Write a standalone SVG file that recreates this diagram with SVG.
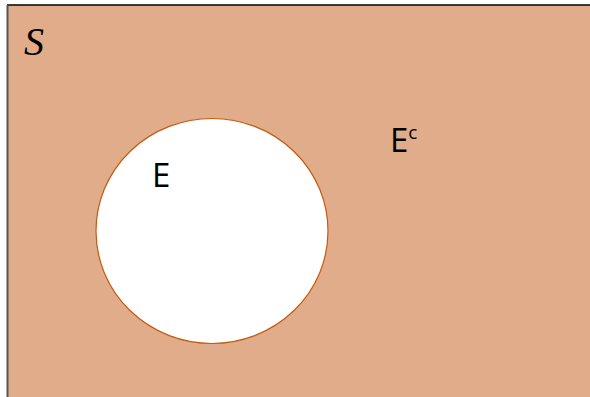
<svg xmlns="http://www.w3.org/2000/svg" width="590" height="397" viewBox="0 0 590 397">
<style>
.lbl{font-family:"Open Sans","Liberation Sans",sans-serif;fill:#000}
</style>
<rect x="0" y="0" width="590" height="397" fill="#fff"/>
<g id="S">
<rect x="7" y="5" width="590" height="400" fill="#E1AC89"/>
<line x1="7" y1="5" x2="590" y2="5" stroke="#000" stroke-width="1.5"/>
<line x1="7.5" y1="5" x2="7.5" y2="397" stroke="#555" stroke-width="2"/>
<text x="24" y="55" font-family="'Liberation Serif',serif" font-style="italic" font-size="40">S</text>
</g>
<g id="E">
<ellipse cx="212" cy="231" rx="116" ry="112.5" fill="#fff" stroke="#C55A11" stroke-width="1.2"/>
<text class="lbl" x="152" y="187" font-size="33">E</text>
</g>
<g id="Ec">
<text class="lbl" x="390" y="152" font-size="33">E<tspan font-size="19" dy="-13">c</tspan></text>
</g>
</svg>
